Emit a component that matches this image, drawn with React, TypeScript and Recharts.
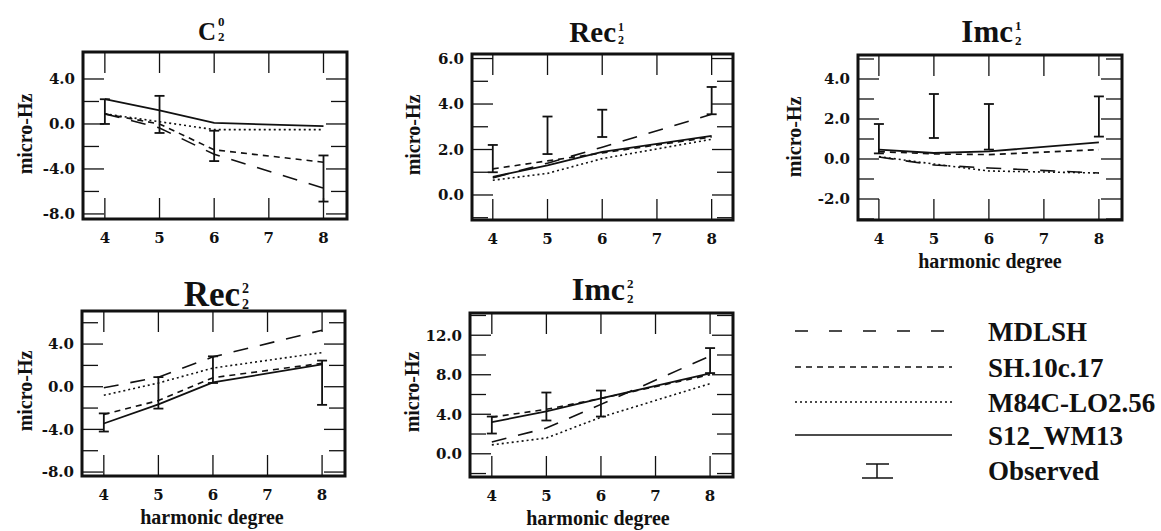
import { ComposedChart, Line, XAxis, YAxis, ErrorBar, ReferenceArea } from "recharts";

const degrees = [4, 5, 6, 8];
const xTicks = [4, 5, 6, 7, 8];

// c(2,0)
const c20Mdlsh = [0.9, -0.35, -2.7, -5.7];
const c20Sh = [0.9, 0.0, -2.3, -3.4];
const c20M84 = [0.9, 0.2, -0.5, -0.5];
const c20S12 = [2.2, 1.2, 0.1, -0.2];
const c20ObsLo = [0.0, -0.8, -3.3, -6.9];
const c20ObsHi = [2.2, 2.5, -0.6, -2.8];

// Re c(2,1)
const rec21Mdlsh = [0.75, 1.4, 2.1, 3.55];
const rec21Sh = [1.15, 1.5, 1.85, 2.55];
const rec21M84 = [0.65, 0.95, 1.6, 2.45];
const rec21S12 = [0.8, 1.3, 1.9, 2.6];
const rec21ObsLo = [1.0, 1.8, 2.55, 3.55];
const rec21ObsHi = [2.2, 3.45, 3.75, 4.75];

// Im c(2,1)
const imc21Mdlsh = [0.1, -0.3, -0.45, -0.7];
const imc21Sh = [0.37, 0.25, 0.22, 0.47];
const imc21M84 = [0.12, -0.25, -0.6, -0.7];
const imc21S12 = [0.47, 0.3, 0.38, 0.83];
const imc21ObsLo = [0.28, 1.05, 0.47, 1.12];
const imc21ObsHi = [1.75, 3.25, 2.75, 3.13];

// Re c(2,2)
const rec22Mdlsh = [-0.1, 0.9, 2.8, 5.3];
const rec22Sh = [-2.6, -1.3, 0.85, 2.2];
const rec22M84 = [-0.8, 0.35, 1.75, 3.2];
const rec22S12 = [-3.45, -1.65, 0.4, 2.1];
const rec22ObsLo = [-4.2, -2.05, 0.35, -1.7];
const rec22ObsHi = [-2.5, 0.9, 2.85, 2.45];

// Im c(2,2)
const imc22Mdlsh = [1.2, 2.6, 5.0, 9.9];
const imc22Sh = [3.7, 4.5, 5.6, 8.0];
const imc22M84 = [0.9, 1.6, 3.7, 7.1];
const imc22S12 = [3.2, 4.3, 5.6, 8.15];
const imc22ObsLo = [2.05, 3.37, 3.77, 8.17];
const imc22ObsHi = [3.77, 6.2, 6.4, 10.7];

const legendNames = ["MDLSH", "SH.10c.17", "M84C-LO2.56", "S12_WM13", "Observed"];

const panels = [
  {
    box: [83, 52, 347, 219], xDomain: [3.6, 8.43], yDomain: [-8.45, 6.4],
    yTicks: [-8, -6, -4, -2, 0, 2, 4], yLabels: [-8, -4, 0, 4],
    mdlsh: c20Mdlsh, sh: c20Sh, m84: c20M84, s12: c20S12, lo: c20ObsLo, hi: c20ObsHi,
  },
  {
    box: [472, 54, 733, 220], xDomain: [3.62, 8.39], yDomain: [-1.1, 6.2],
    yTicks: [-1, 0, 1, 2, 3, 4, 5, 6], yLabels: [0, 2, 4, 6],
    mdlsh: rec21Mdlsh, sh: rec21Sh, m84: rec21M84, s12: rec21S12, lo: rec21ObsLo, hi: rec21ObsHi,
  },
  {
    box: [858, 55, 1122, 220], xDomain: [3.62, 8.42], yDomain: [-3.05, 5.2],
    yTicks: [-3, -2, -1, 0, 1, 2, 3, 4, 5], yLabels: [-2, 0, 2, 4],
    mdlsh: imc21Mdlsh, sh: imc21Sh, m84: imc21M84, s12: imc21S12, lo: imc21ObsLo, hi: imc21ObsHi,
  },
  {
    box: [82, 311, 345, 476], xDomain: [3.6, 8.42], yDomain: [-8.37, 7.1],
    yTicks: [-8, -6, -4, -2, 0, 2, 4, 6], yLabels: [-8, -4, 0, 4],
    mdlsh: rec22Mdlsh, sh: rec22Sh, m84: rec22M84, s12: rec22S12, lo: rec22ObsLo, hi: rec22ObsHi,
  },
  {
    box: [470, 313, 733, 477], xDomain: [3.6, 8.42], yDomain: [-2.35, 14.25],
    yTicks: [-2, 0, 2, 4, 6, 8, 10, 12, 14], yLabels: [0, 4, 8, 12],
    mdlsh: imc22Mdlsh, sh: imc22Sh, m84: imc22M84, s12: imc22S12, lo: imc22ObsLo, hi: imc22ObsHi,
  },
];

const ink = "#111";
const serif = "Liberation Serif";
const tickFont = { fontFamily: "DejaVu Serif", fontWeight: 700, fontSize: 15, fill: ink };

const MDLSH_DASH = "15 12";
const SH_DASH = "6 5";
const M84_DASH = "2 3";

// space around each plot box; axis sizes are added on top of the margins
const ML = 80;
const MT = 10;
const MR = 10;
const MB = 60;
const YW = 60;
const XH = 30;

function XTick(props: any) {
  const { x, y, payload, h } = props;
  return (
    <g>
      <line x1={x} y1={y} x2={x} y2={y - 21} stroke={ink} strokeWidth={1.3} />
      <line x1={x} y1={y - h} x2={x} y2={y - h + 21} stroke={ink} strokeWidth={1.3} />
      <text x={x} y={y + 24} textAnchor="middle" style={tickFont}>
        {payload.value}
      </text>
    </g>
  );
}

function YTick(props: any) {
  const { x, y, payload, w, labels } = props;
  const v = payload.value;
  const labeled = labels.includes(v);
  const len = labeled ? 21 : 16;
  return (
    <g>
      <line x1={x} y1={y} x2={x + len} y2={y} stroke={ink} strokeWidth={1.3} />
      <line x1={x + w} y1={y} x2={x + w - len} y2={y} stroke={ink} strokeWidth={1.3} />
      {labeled && (
        <text x={x - 8} y={y} dy="0.36em" textAnchor="end" style={tickFont}>
          {v.toFixed(1)}
        </text>
      )}
    </g>
  );
}

function Panel({ p }: { p: any }) {
  const [L, T, R, B] = p.box;
  const w = R - L;
  const h = B - T;
  const rows = degrees.map((deg, i) => ({
    deg,
    mdlsh: p.mdlsh[i],
    sh: p.sh[i],
    m84: p.m84[i],
    s12: p.s12[i],
    obs: (p.lo[i] + p.hi[i]) / 2,
    err: (p.hi[i] - p.lo[i]) / 2,
  }));
  return (
    <div style={{ position: "absolute", left: L - ML, top: T - MT }}>
      <ComposedChart
        width={w + ML + MR}
        height={h + MT + MB}
        data={rows}
        margin={{ top: MT, right: MR, bottom: MB - XH, left: ML - YW }}
      >
        <XAxis
          dataKey="deg"
          type="number"
          domain={p.xDomain}
          allowDataOverflow
          ticks={xTicks}
          interval={0}
          height={XH}
          tickSize={0}
          tickMargin={0}
          axisLine={false}
          tickLine={false}
          tick={(tp: any) => <XTick {...tp} h={h} />}
        />
        <YAxis
          type="number"
          domain={p.yDomain}
          allowDataOverflow
          ticks={p.yTicks}
          interval={0}
          width={YW}
          tickSize={0}
          tickMargin={0}
          axisLine={false}
          tickLine={false}
          tick={(tp: any) => <YTick {...tp} w={w} labels={p.yLabels} />}
        />
        <Line type="linear" dataKey="mdlsh" stroke={ink} strokeWidth={1.6} strokeDasharray={MDLSH_DASH} dot={false} isAnimationActive={false} />
        <Line type="linear" dataKey="sh" stroke={ink} strokeWidth={1.6} strokeDasharray={SH_DASH} dot={false} isAnimationActive={false} />
        <Line type="linear" dataKey="m84" stroke={ink} strokeWidth={1.6} strokeDasharray={M84_DASH} dot={false} isAnimationActive={false} />
        <Line type="linear" dataKey="s12" stroke={ink} strokeWidth={1.8} dot={false} isAnimationActive={false} />
        <Line type="linear" dataKey="obs" stroke="none" dot={false} isAnimationActive={false}>
          <ErrorBar dataKey="err" direction="y" width={5} stroke={ink} strokeWidth={1.8} isAnimationActive={false} />
        </Line>
        <ReferenceArea
          x1={p.xDomain[0]}
          x2={p.xDomain[1]}
          y1={p.yDomain[0]}
          y2={p.yDomain[1]}
          fill="none"
          fillOpacity={0}
          stroke={ink}
          strokeWidth={3}
          ifOverflow="visible"
        />
      </ComposedChart>
    </div>
  );
}

function Title({ x, y, fs, ss, main, sup, sub, supY, subY }: any) {
  return (
    <g fontFamily={serif} fontWeight={700} fill={ink}>
      <text x={x} y={y} fontSize={fs} textAnchor="end">{main}</text>
      <text x={x + 2} y={supY} fontSize={ss}>{sup}</text>
      <text x={x + 2} y={subY} fontSize={ss}>{sub}</text>
    </g>
  );
}

function YLabel({ x, y }: { x: number; y: number }) {
  return (
    <text
      x={x}
      y={y}
      transform={`rotate(-90 ${x} ${y})`}
      textAnchor="middle"
      fontFamily={serif}
      fontWeight={700}
      fontSize={20}
      fill={ink}
    >
      micro-Hz
    </text>
  );
}

function XLabel({ x, y }: { x: number; y: number }) {
  return (
    <text x={x} y={y} textAnchor="middle" fontFamily={serif} fontWeight={700} fontSize={20} fill={ink}>
      harmonic degree
    </text>
  );
}

export default function App() {
  const legendRows = [
    { y: 331, dash: "13 21" },
    { y: 367, dash: SH_DASH },
    { y: 402, dash: M84_DASH },
    { y: 435, dash: undefined },
  ];
  return (
    <div style={{ position: "absolute", left: 0, top: 0, width: 1161, height: 531, background: "#fff" }}>
      {panels.map((p, i) => (
        <Panel key={i} p={p} />
      ))}
      <svg width={1161} height={531} style={{ position: "absolute", left: 0, top: 0, pointerEvents: "none" }}>
        <Title x={216} y={40} fs={25} ss={13} main="C" sup="0" sub="2" supY={26} subY={41} />
        <Title x={616} y={42} fs={29} ss={12} main="Rec" sup="1" sub="2" supY={31} subY={44} />
        <Title x={1013} y={42} fs={31} ss={13} main="Imc" sup="1" sub="2" supY={30} subY={45} />
        <Title x={240} y={306} fs={35} ss={14} main="Rec" sup="2" sub="2" supY={293} subY={309} />
        <Title x={625} y={300} fs={32} ss={13} main="Imc" sup="2" sub="2" supY={288} subY={303} />

        <YLabel x={32} y={134} />
        <YLabel x={420} y={135} />
        <YLabel x={801} y={137} />
        <YLabel x={32} y={391} />
        <YLabel x={419} y={392} />

        <XLabel x={990} y={268} />
        <XLabel x={212} y={524} />
        <XLabel x={598} y={525} />

        {legendRows.map((r, i) => (
          <g key={i}>
            <line x1={795} y1={r.y} x2={952} y2={r.y} stroke={ink} strokeWidth={1.5} strokeDasharray={r.dash} />
            <text x={988} y={r.y + 10} fontFamily={serif} fontWeight={700} fontSize={27} fill={ink}>
              {legendNames[i]}
            </text>
          </g>
        ))}
        <g stroke={ink} strokeWidth={1.5}>
          <line x1={866} y1={464} x2={889} y2={464} />
          <line x1={877} y1={464} x2={877} y2={478} />
          <line x1={862} y1={478} x2={893} y2={478} />
        </g>
        <text x={988} y={480} fontFamily={serif} fontWeight={700} fontSize={27} fill={ink}>
          {legendNames[4]}
        </text>
      </svg>
    </div>
  );
}
